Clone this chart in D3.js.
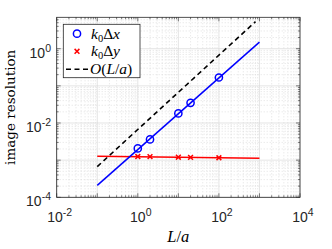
<!DOCTYPE html>
<html><head><meta charset="utf-8">
<script src="https://cdn.jsdelivr.net/npm/d3@7"></script>
<style>body{margin:0;background:#fff}svg{display:block}</style>
</head><body><svg id="c" width="332" height="249"></svg>
<script>
// data
const xs = [1, 2, 10, 20, 100];
const dxVals = [2.07e-3, 3.62e-3, 0.0181, 0.0349, 0.168];
const dyVals = [1.25e-3, 1.24e-3, 1.20e-3, 1.19e-3, 1.16e-3];
const fitX = [0.1, 1000];
const dxFit = [2.1e-4, 1.5];
const dyFit = [1.27e-3, 1.12e-3];
const refX = [0.1, 800];
const refY = [6.7e-4, 5.36];
const xTicks = [1e-2, 1e0, 1e2, 1e4];
const xTickExp = ["-2", "0", "2", "4"];
const yTicks = [1e-4, 1e-2, 1e0];
const yTickExp = ["-4", "-2", "0"];

const svg = d3.select("#c");
const L = 56.7, R = 300, T = 17.3, B = 197.3;
const x = d3.scaleLog().domain([1e-2, 1e4]).range([L, R]);
const y = d3.scaleLog().domain([1e-4, 7.0]).range([B, T]);

// minor values
const minorX = [], minorY = [];
for (let e = -2; e < 4; e++) for (let k = 2; k <= 9; k++) minorX.push(k * Math.pow(10, e));
for (let e = -4; e < 1; e++) for (let k = 2; k <= 9; k++) { const v = k * Math.pow(10, e); if (v < 7.0) minorY.push(v); }
const majorX = [1e-2,1e-1,1e0,1e1,1e2,1e3,1e4];
const majorY = [1e-4,1e-3,1e-2,1e-1,1e0];

const g = svg.append("g");
// minor grid
g.selectAll(".mgx").data(minorX).enter().append("line")
  .attr("x1", d => x(d)).attr("x2", d => x(d)).attr("y1", T).attr("y2", B)
  .attr("stroke", "#cfcfcf").attr("stroke-width", 0.6).attr("stroke-dasharray", "1,2");
g.selectAll(".mgy").data(minorY).enter().append("line")
  .attr("y1", d => y(d)).attr("y2", d => y(d)).attr("x1", L).attr("x2", R)
  .attr("stroke", "#cfcfcf").attr("stroke-width", 0.6).attr("stroke-dasharray", "1,2");
// major grid
g.selectAll(".gx").data(majorX).enter().append("line")
  .attr("x1", d => x(d)).attr("x2", d => x(d)).attr("y1", T).attr("y2", B)
  .attr("stroke", "#d8d8d8").attr("stroke-width", 0.7);
g.selectAll(".gy").data(majorY).enter().append("line")
  .attr("y1", d => y(d)).attr("y2", d => y(d)).attr("x1", L).attr("x2", R)
  .attr("stroke", "#d8d8d8").attr("stroke-width", 0.7);

// ticks (inside, all sides)
const ax = "#262626";
const tk = svg.append("g").attr("stroke", ax).attr("stroke-width", 0.6);
majorX.forEach(v => {
  tk.append("line").attr("x1", x(v)).attr("x2", x(v)).attr("y1", B).attr("y2", B - 4);
  tk.append("line").attr("x1", x(v)).attr("x2", x(v)).attr("y1", T).attr("y2", T + 4);
});
minorX.forEach(v => {
  tk.append("line").attr("x1", x(v)).attr("x2", x(v)).attr("y1", B).attr("y2", B - 2);
  tk.append("line").attr("x1", x(v)).attr("x2", x(v)).attr("y1", T).attr("y2", T + 2);
});
majorY.forEach(v => {
  tk.append("line").attr("y1", y(v)).attr("y2", y(v)).attr("x1", L).attr("x2", L + 4);
  tk.append("line").attr("y1", y(v)).attr("y2", y(v)).attr("x1", R).attr("x2", R - 4);
});
minorY.forEach(v => {
  tk.append("line").attr("y1", y(v)).attr("y2", y(v)).attr("x1", L).attr("x2", L + 2);
  tk.append("line").attr("y1", y(v)).attr("y2", y(v)).attr("x1", R).attr("x2", R - 2);
});

// clip
svg.append("clipPath").attr("id", "clp").append("rect").attr("x", L).attr("y", T).attr("width", R - L).attr("height", B - T);
const plot = svg.append("g").attr("clip-path", "url(#clp)");
const line = d3.line().x(d => x(d[0])).y(d => y(d[1]));

plot.append("path").datum(refX.map((v, i) => [v, refY[i]])).attr("d", line)
  .attr("fill", "none").attr("stroke", "#000").attr("stroke-width", 1.6).attr("stroke-dasharray", "5,3.5");
plot.append("path").datum(fitX.map((v, i) => [v, dyFit[i]])).attr("d", line)
  .attr("fill", "none").attr("stroke", "#ff0000").attr("stroke-width", 1.5);
plot.append("path").datum(fitX.map((v, i) => [v, dxFit[i]])).attr("d", line)
  .attr("fill", "none").attr("stroke", "#0000ff").attr("stroke-width", 1.5);

plot.selectAll(".cx").data(xs).enter().append("circle")
  .attr("cx", d => x(d)).attr("cy", (d, i) => y(dxVals[i])).attr("r", 3.6)
  .attr("fill", "none").attr("stroke", "#0000ff").attr("stroke-width", 1.5);
const cr = 2.4;
xs.forEach((d, i) => {
  const cx = x(d), cy = y(dyVals[i]);
  plot.append("path").attr("d", `M${cx-cr},${cy-cr}L${cx+cr},${cy+cr}M${cx-cr},${cy+cr}L${cx+cr},${cy-cr}`)
    .attr("stroke", "#ff0000").attr("stroke-width", 1.5);
});

// box
svg.append("rect").attr("x", L).attr("y", T).attr("width", R - L).attr("height", B - T)
  .attr("fill", "none").attr("stroke", ax).attr("stroke-width", 0.8);

// tick labels
const tf = "'Liberation Sans', Arial, sans-serif";
xTicks.forEach((v, i) => {
  const t = svg.append("text").attr("x", x(v) + 3).attr("y", 222).attr("text-anchor", "middle")
    .attr("font-family", tf).attr("font-size", 14).attr("fill", ax);
  t.append("tspan").text("10");
  t.append("tspan").attr("dy", -6).attr("font-size", 10.5).text(xTickExp[i]);
});
yTicks.forEach((v, i) => {
  const t = svg.append("text").attr("x", 51).attr("y", y(v) + 9).attr("text-anchor", "end")
    .attr("font-family", tf).attr("font-size", 14).attr("fill", ax);
  t.append("tspan").text("10");
  t.append("tspan").attr("dy", -6).attr("font-size", 10.5).text(yTickExp[i]);
});

// axis labels
svg.append("text").attr("transform", `translate(15,${(T + B) / 2}) rotate(-90)`).attr("text-anchor", "middle")
  .attr("font-family", "'DejaVu Serif', serif").attr("font-size", 13.5).attr("fill", "#000").text("image resolution");
const sf = "'Liberation Serif', 'DejaVu Serif', serif";
const xl = svg.append("text").attr("x", (L + R) / 2).attr("y", 242).attr("text-anchor", "middle")
  .attr("font-family", sf).attr("font-size", 16.5).attr("fill", "#000");
xl.append("tspan").attr("font-style", "italic").text("L");
xl.append("tspan").text("/");
xl.append("tspan").attr("font-style", "italic").text("a");

// legend
const lg = svg.append("g");
lg.append("rect").attr("x", 63.3).attr("y", 24.3).attr("width", 76.7).attr("height", 53.4)
  .attr("fill", "#fff").attr("stroke", ax).attr("stroke-width", 0.8);
const rows = [33.7, 51.3, 69.3];
lg.append("circle").attr("cx", 77).attr("cy", rows[0]).attr("r", 3.6).attr("fill", "none").attr("stroke", "#0000ff").attr("stroke-width", 1.5);
lg.append("path").attr("d", `M${77-cr},${rows[1]-cr}L${77+cr},${rows[1]+cr}M${77-cr},${rows[1]+cr}L${77+cr},${rows[1]-cr}`).attr("stroke", "#ff0000").attr("stroke-width", 1.5);
lg.append("line").attr("x1", 66).attr("x2", 89).attr("y1", rows[2]).attr("y2", rows[2]).attr("stroke", "#000").attr("stroke-width", 1.6).attr("stroke-dasharray", "5,3.5");
function kd(yy, v) {
  const t = lg.append("text").attr("x", 91).attr("y", yy + 5).attr("font-family", sf).attr("font-size", 15.5).attr("fill", "#000");
  t.append("tspan").attr("font-style", "italic").text("k");
  t.append("tspan").attr("font-size", 10.5).attr("dy", 3).text("0");
  t.append("tspan").attr("dy", -3).text("Δ");
  t.append("tspan").attr("font-style", "italic").text(v);
}
kd(rows[0], "x");
kd(rows[1], "y");
const ot = lg.append("text").attr("x", 90).attr("y", rows[2] + 5).attr("font-family", sf).attr("font-size", 15.5).attr("fill", "#000");
ot.append("tspan").attr("font-style", "italic").text("O");
ot.append("tspan").text("(");
ot.append("tspan").attr("font-style", "italic").text("L");
ot.append("tspan").text("/");
ot.append("tspan").attr("font-style", "italic").text("a");
ot.append("tspan").text(")");
</script></body></html>
